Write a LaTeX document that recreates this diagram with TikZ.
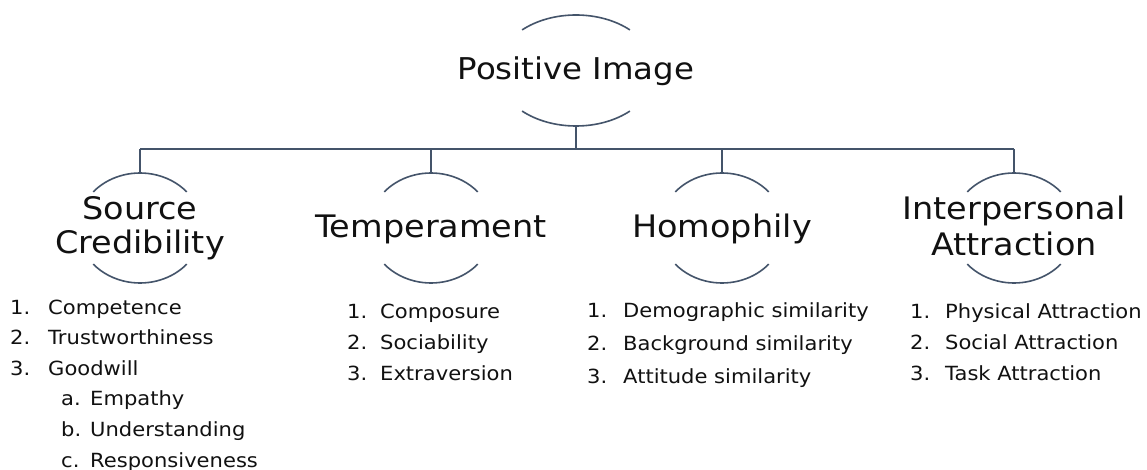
\documentclass[tikz,border=0pt]{standalone}
\usepackage{fontspec}
\setmainfont{DejaVu Sans}
\newfontfamily\widefont[FakeStretch=1.08]{DejaVu Sans}
\begin{document}
\begin{tikzpicture}[x=1pt,y=-1pt,
  line/.style={draw=linec, line width=1.8pt},
  arcs/.style={draw=linec, line width=1.6pt},
  head/.style={anchor=base, inner sep=0pt, text=txt, font=\widefont\fontsize{30}{36}\selectfont},
  sub/.style={anchor=base, inner sep=0pt, text=txt, font=\widefont\fontsize{31}{36}\selectfont},
  num/.style={anchor=base west, inner sep=0pt, text=txt, font=\widefont\fontsize{19.5}{23}\selectfont},
  item/.style={anchor=base west, inner sep=0pt, text=txt, font=\widefont\fontsize{19.5}{23}\selectfont}]
\definecolor{linec}{HTML}{44546A}
\definecolor{txt}{HTML}{111111}
\useasboundingbox[fill=white] (0,0) rectangle (1147,470);

% root
\coordinate (rc) at (576,70.5);
\node[head] (root) at (576,80) {Positive Image};
\draw[arcs] (rc) ++(227:79 and 55.5) arc[start angle=227,end angle=313,x radius=79,y radius=55.5];
\draw[arcs] (rc) ++(47:79 and 55.5) arc[start angle=47,end angle=133,x radius=79,y radius=55.5];

% group centres
\coordinate (c1) at (140,228);
\coordinate (c2) at (431,228);
\coordinate (c3) at (722,228);
\coordinate (c4) at (1014,228);
\foreach \c in {c1,c2,c3,c4}{
  \draw[arcs] (\c) ++(221:62 and 55) arc[start angle=221,end angle=319,x radius=62,y radius=55];
  \draw[arcs] (\c) ++(41:62 and 55) arc[start angle=41,end angle=139,x radius=62,y radius=55];
}

% connectors
\coordinate (stem) at (576,126);
\coordinate (bus) at (576,149);
\coordinate (t1) at (140,173);
\coordinate (t2) at (431,173);
\coordinate (t3) at (722,173);
\coordinate (t4) at (1014,173);
\draw[line] (stem) -- (bus);
\draw[line] (t1 |- bus) -- (t4 |- bus);
\foreach \t in {t1,t2,t3,t4}{ \draw[line] (\t |- bus) -- (\t); }

% headings
\node[sub] (sc1) at (140,220) {Source};
\node[sub] (sc2) at (140,253) {Credibility};
\node[sub] (tm) at (431,237) {Temperament};
\node[sub] (hm) at (722,237) {Homophily};
\node[sub] (ia1) at (1014,220) {Interpersonal};
\node[sub] (ia2) at (1014,255) {Attraction};

% Source credibility list
\node[num] (a1n) at (10,314) {1.};  \node[item] (a1) at (48,314) {Competence};
\node[num] (a2n) at (10,344) {2.};  \node[item] (a2) at (48,344) {Trustworthiness};
\node[num] (a3n) at (10,375) {3.};  \node[item] (a3) at (48,375) {Goodwill};
\node[num] (a4n) at (61,405) {a.};  \node[item] (a4) at (90,405) {Empathy};
\node[num] (a5n) at (61,436) {b.};  \node[item] (a5) at (90,436) {Understanding};
\node[num] (a6n) at (61,467) {c.};  \node[item] (a6) at (90,467) {Responsiveness};

% Temperament list
\node[num] (b1n) at (347,318) {1.};  \node[item] (b1) at (380,318) {Composure};
\node[num] (b2n) at (347,349) {2.};  \node[item] (b2) at (380,349) {Sociability};
\node[num] (b3n) at (347,380) {3.};  \node[item] (b3) at (380,380) {Extraversion};

% Homophily list
\node[num] (h1n) at (587,317) {1.};  \node[item] (h1) at (623,317) {Demographic similarity};
\node[num] (h2n) at (587,350) {2.};  \node[item] (h2) at (623,350) {Background similarity};
\node[num] (h3n) at (587,383) {3.};  \node[item] (h3) at (623,383) {Attitude similarity};

% Interpersonal attraction list
\node[num] (i1n) at (910,318) {1.};  \node[item] (i1) at (945,318) {Physical Attraction};
\node[num] (i2n) at (910,349) {2.};  \node[item] (i2) at (945,349) {Social Attraction};
\node[num] (i3n) at (910,380) {3.};  \node[item] (i3) at (945,380) {Task Attraction};
\end{tikzpicture}
\end{document}
